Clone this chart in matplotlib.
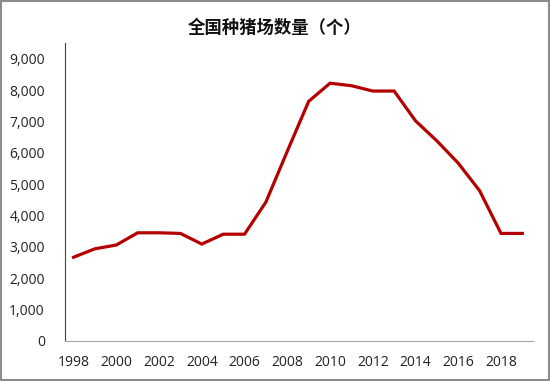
import matplotlib
matplotlib.use("Agg")
import matplotlib.pyplot as plt
from matplotlib.patches import Rectangle
from matplotlib.ticker import FuncFormatter

years = list(range(1998, 2020))
counts = [2670, 2940, 3060, 3450, 3450, 3430, 3090, 3405, 3405, 4430,
          6050, 7640, 8220, 8140, 7970, 7970, 7020, 6380, 5670, 4790,
          3430, 3430]
xticks = list(range(1998, 2019, 2))
yticks = list(range(0, 9001, 1000))
title = "全国种猪场数量（个）"

fig = plt.figure(figsize=(5.5, 3.81), dpi=100)
ax = fig.add_axes([0.1182, 0.105, 0.851, 0.782])
ax.plot(years, counts, color="#B50000", linewidth=2.3, solid_joinstyle="miter")
ax.set_xlim(1997.6, 2019.5)
ax.set_ylim(0, 9500)
ax.set_xticks(xticks)
ax.set_yticks(yticks)
ax.yaxis.set_major_formatter(FuncFormatter(lambda v, p: f"{int(v):,}"))
for s in ["top", "right"]:
    ax.spines[s].set_visible(False)
ax.spines["left"].set_color("#404040")
ax.spines["left"].set_linewidth(0.8)
ax.spines["bottom"].set_color("#A6A6A6")
ax.spines["bottom"].set_linewidth(0.8)
ax.tick_params(axis="both", length=0, labelsize=10, colors="#222222")
ax.tick_params(axis="y", pad=14.5)
ax.tick_params(axis="x", pad=10)
for lab in ax.get_xticklabels() + ax.get_yticklabels():
    lab.set_family(["Open Sans", "DejaVu Sans"])

fig.text(0.5, 0.928, title, ha="center", va="center", fontsize=12.5,
         fontweight="bold", family=["Noto Sans CJK SC", "DejaVu Sans"], color="#111111")
fig.patches.append(Rectangle((0.002, 0.003), 0.996, 0.994, transform=fig.transFigure,
                             fill=False, edgecolor="#8C8C8C", linewidth=1.5))
fig.savefig("out.png", dpi=100)
